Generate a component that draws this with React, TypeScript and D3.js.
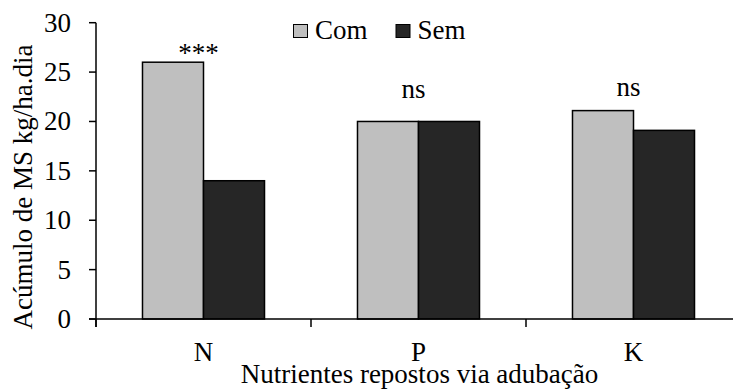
import React from "react";
import * as d3 from "d3";

const categories = ["N", "P", "K"];
const seriesNames = ["Com", "Sem"];
const comValues = [26, 20, 21.1];
const semValues = [14, 20, 19.1];
const annotations = ["***", "ns", "ns"];
const annotationY = [26.0, 22.4, 22.6];
const yTicks = [0, 5, 10, 15, 20, 25, 30];
const colors = ["#BFBFBF", "#262626"];

const W = 733;
const H = 390;
const FONT = "'Liberation Serif', 'Times New Roman', Times, serif";
const FS = 27;

export default function App() {
  const left = 96;
  const right = 741;
  const top = 22.7;
  const bottom = 319;

  const y = d3.scaleLinear().domain([0, 30]).range([bottom, top]);
  const x0 = d3.scaleBand<string>().domain(categories).range([left, right]).padding(0);
  const x1 = d3
    .scaleBand<string>()
    .domain(seriesNames)
    .range([0, x0.bandwidth()])
    .paddingInner(0)
    .paddingOuter(0.762);

  const values = [comValues, semValues];

  const xTickPositions = [left, ...categories.map((c) => (x0(c) as number) + x0.bandwidth())];
  const ts: React.CSSProperties = { fontFamily: FONT, fontSize: FS };

  return (
    <div style={{ position: "absolute", left: 0, top: 0, fontFamily: FONT }}>
      <svg width={W} height={H} style={{ display: "block", background: "#fff" }}>
        <rect x={0} y={0} width={W} height={H} fill="#fff" />
        {categories.map((c, i) =>
          seriesNames.map((s, j) => {
            const v = values[j][i];
            const bx = (x0(c) as number) + (x1(s) as number);
            return (
              <rect
                key={c + s}
                x={bx}
                y={y(v)}
                width={x1.bandwidth()}
                height={y(0) - y(v)}
                fill={colors[j]}
                stroke="#000"
                strokeWidth={1.5}
              />
            );
          })
        )}
        <line x1={left} x2={left} y1={top} y2={bottom + 8} stroke="#000" strokeWidth={1.5} />
        {yTicks.map((t) => (
          <g key={t}>
            <line x1={left - 7} x2={left} y1={y(t)} y2={y(t)} stroke="#000" strokeWidth={1.5} />
            <text x={left - 25} y={y(t) + 9} textAnchor="end" style={ts} fill="#000">
              {t}
            </text>
          </g>
        ))}
        <line x1={left - 7} x2={W} y1={bottom} y2={bottom} stroke="#000" strokeWidth={1.5} />
        {xTickPositions.map((p, i) => (
          <line key={i} x1={p} x2={p} y1={bottom} y2={bottom + 8} stroke="#000" strokeWidth={1.5} />
        ))}
        {categories.map((c) => (
          <text
            key={c}
            x={(x0(c) as number) + x0.bandwidth() / 2}
            y={361}
            textAnchor="middle"
            style={ts}
            fill="#000"
          >
            {c}
          </text>
        ))}
        {categories.map((c, i) => (
          <text
            key={"a" + c}
            x={(x0(c) as number) + x0.bandwidth() / 2 - 5}
            y={y(annotationY[i])}
            textAnchor="middle"
            style={ts}
            fill="#000"
          >
            {annotations[i]}
          </text>
        ))}
        <text x={419.5} y={383} textAnchor="middle" style={ts} fill="#000">
          Nutrientes repostos via adubação
        </text>
        <text
          transform={`translate(32, 187) rotate(-90)`}
          textAnchor="middle"
          style={ts}
          fill="#000"
        >
          Acúmulo de MS kg/ha.dia
        </text>
        {seriesNames.map((s, j) => {
          const lx = j === 0 ? 293.5 : 396;
          return (
            <g key={s}>
              <rect x={lx} y={24.5} width={14} height={13} fill={colors[j]} stroke="#000" strokeWidth={1} />
              <text x={lx + 21.5} y={39} style={ts} fill="#000">
                {s}
              </text>
            </g>
          );
        })}
      </svg>
    </div>
  );
}
